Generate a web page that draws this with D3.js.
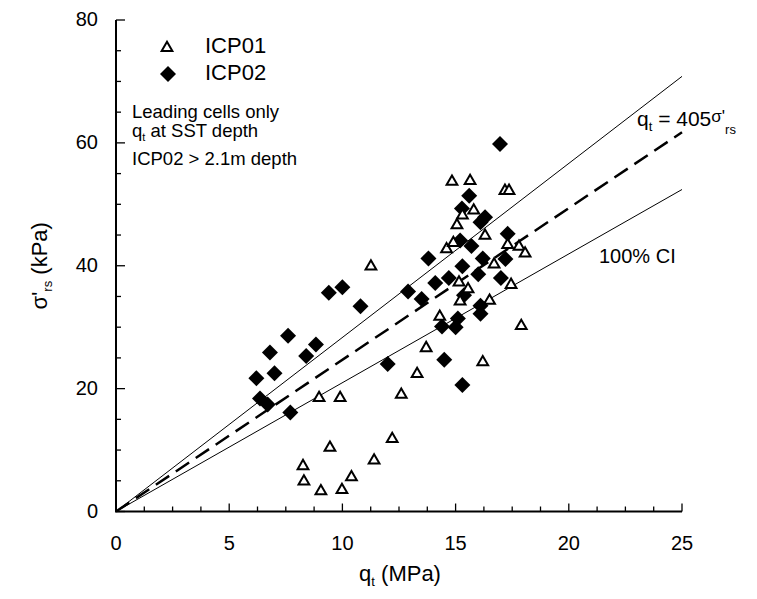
<!DOCTYPE html>
<html lang="en">
<head>
<meta charset="UTF-8">
<title>sigma-rs vs qt</title>
<script src="https://cdn.jsdelivr.net/npm/d3@7.8.5/dist/d3.min.js"></script>
<style>
  body { margin: 0; background: #fff; }
  text { font-family: "Liberation Sans", Arial, sans-serif; fill: #000; }
</style>
</head>
<body>
<div id="chart"></div>
<script>
// ICP01 (open triangles): [qt MPa, sigma'rs kPa]
const icp01 = [
  [8.26, 7.4], [8.3, 4.9], [9.05, 3.3], [9.98, 3.5], [10.4, 5.6], [9.45, 10.4],
  [11.4, 8.3], [12.2, 11.8], [8.97, 18.5], [9.9, 18.5], [12.6, 19.0], [13.3, 22.4],
  [13.7, 26.6], [11.26, 39.9], [14.3, 31.7], [15.2, 34.2], [16.5, 34.3], [15.55, 36.2],
  [15.15, 37.3], [17.45, 36.9], [16.2, 24.3], [17.9, 30.2], [16.7, 40.2], [14.6, 42.7],
  [14.9, 43.7], [16.3, 44.9], [17.3, 43.4], [17.8, 43.1], [18.07, 42.0], [15.06, 46.6],
  [15.3, 48.2], [15.8, 49.0], [14.84, 53.7], [15.64, 53.8], [17.18, 52.2], [17.36, 52.2]
];
// ICP02 (filled diamonds)
const icp02 = [
  [6.2, 21.7], [6.36, 18.4], [6.7, 17.4], [6.8, 25.9], [7.0, 22.5], [7.6, 28.6],
  [7.7, 16.1], [8.4, 25.3], [8.83, 27.2], [9.4, 35.6], [10.0, 36.5], [10.8, 33.4],
  [12.0, 24.0], [12.9, 35.8], [13.5, 34.6], [13.8, 41.2], [14.1, 37.2], [14.4, 30.1],
  [14.5, 24.7], [14.7, 38.0], [15.0, 30.0], [15.1, 31.4], [15.2, 44.1], [15.28, 49.3],
  [15.3, 39.9], [15.3, 20.6], [15.37, 35.2], [15.6, 51.4], [15.7, 43.2], [16.0, 38.6],
  [16.1, 47.1], [16.1, 33.5], [16.1, 32.2], [16.2, 41.2], [16.3, 47.9], [17.0, 38.0],
  [16.96, 59.8], [17.2, 41.1], [17.3, 45.2]
];
// lines through origin: qt = k * sigma'rs  (qt in MPa, sigma in kPa)
const fitK = 405;
const upperK = 353;
const lowerK = 477;
const xTicks = [0, 5, 10, 15, 20, 25];
const yTicks = [0, 20, 40, 60, 80];

const width = 757, height = 599;
const margin = {top: 20, right: 75, bottom: 87.5, left: 116};

const svg = d3.select("#chart").append("svg")
  .attr("width", width)
  .attr("height", height);

const x = d3.scaleLinear().domain([0, 25]).range([margin.left, width - margin.right]);
const y = d3.scaleLinear().domain([0, 80]).range([height - margin.bottom, margin.top]);

// ref lines
function drawLine(k, dash, sw) {
  const pts = [[0, 0], [25, 25 * 1000 / k]];
  svg.append("path")
    .attr("d", d3.line().x(d => x(d[0])).y(d => y(d[1]))(pts))
    .attr("fill", "none")
    .attr("stroke", "#000")
    .attr("stroke-width", sw)
    .attr("stroke-dasharray", dash);
}
drawLine(upperK, null, 1);
drawLine(lowerK, null, 1);
drawLine(fitK, "16,8", 2.5);

// axes, ticks pointing in
const y0 = y(0), x0 = x(0);
const ax = svg.append("g");
ax.append("line").attr("x1", x0 - 1).attr("x2", x(25)).attr("y1", y0).attr("y2", y0)
  .attr("stroke", "#000").attr("stroke-width", 2);
ax.append("line").attr("x1", x0).attr("x2", x0).attr("y1", y0).attr("y2", y(80))
  .attr("stroke", "#000").attr("stroke-width", 2);

d3.range(0, 25.01, 1.25).forEach(v => {
  const major = v % 5 === 0;
  ax.append("line").attr("x1", x(v)).attr("x2", x(v))
    .attr("y1", y0).attr("y2", y0 - (major ? 8 : 5))
    .attr("stroke", "#000").attr("stroke-width", 1.3);
});
d3.range(0, 81, 5).forEach(v => {
  const major = v % 20 === 0;
  ax.append("line").attr("x1", x0).attr("x2", x0 + (major ? 9 : 5))
    .attr("y1", y(v)).attr("y2", y(v))
    .attr("stroke", "#000").attr("stroke-width", 1.3);
});

ax.selectAll(".xl").data(xTicks).join("text")
  .attr("x", d => x(d)).attr("y", y0 + 38)
  .attr("text-anchor", "middle").attr("font-size", 20)
  .text(d => d);
ax.selectAll(".yl").data(yTicks).join("text")
  .attr("x", x0 - 18).attr("y", d => y(d) + 6)
  .attr("text-anchor", "end").attr("font-size", 20)
  .text(d => d);

// axis titles
const xt = svg.append("text").attr("x", 400).attr("y", 581)
  .attr("text-anchor", "middle").attr("font-size", 22);
xt.append("tspan").text("q");
xt.append("tspan").attr("font-size", 13).attr("dy", 5).text("t");
xt.append("tspan").attr("dy", -5).text(" (MPa)");

const yt = svg.append("text")
  .attr("transform", `translate(47, ${y(40)}) rotate(-90)`)
  .attr("text-anchor", "middle").attr("font-size", 22);
yt.append("tspan").text("σ'");
yt.append("tspan").attr("font-size", 13).attr("dy", 5).text("rs");
yt.append("tspan").attr("dy", -5).text(" (kPa)");

// markers
const tri = d3.symbol().type(d3.symbolTriangle).size(50);
const diamondPath = r => `M0,${-r}L${r},0L0,${r}L${-r},0Z`;

svg.append("g").selectAll("path").data(icp02).join("path")
  .attr("d", diamondPath(8))
  .attr("transform", d => `translate(${x(d[0])},${y(d[1])})`)
  .attr("fill", "#000");

svg.append("g").selectAll("path").data(icp01).join("path")
  .attr("d", tri())
  .attr("transform", d => `translate(${x(d[0])},${y(d[1])})`)
  .attr("fill", "#fff").attr("stroke", "#000").attr("stroke-width", 2);

// legend
svg.append("path").attr("d", tri()).attr("transform", "translate(167,48)")
  .attr("fill", "#fff").attr("stroke", "#000").attr("stroke-width", 2);
svg.append("text").attr("x", 205).attr("y", 53).attr("font-size", 22).text("ICP01");
svg.append("path").attr("d", diamondPath(8)).attr("transform", "translate(168,74)")
  .attr("fill", "#000");
svg.append("text").attr("x", 205).attr("y", 80).attr("font-size", 22).text("ICP02");

// notes
svg.append("text").attr("x", 132).attr("y", 118).attr("font-size", 18.5).text("Leading cells only");
const n2 = svg.append("text").attr("x", 132).attr("y", 137).attr("font-size", 18.5);
n2.append("tspan").text("q");
n2.append("tspan").attr("font-size", 11).attr("dy", 4).text("t");
n2.append("tspan").attr("dy", -4).text(" at SST depth");
svg.append("text").attr("x", 132).attr("y", 165).attr("font-size", 18.5).text("ICP02 > 2.1m depth");

const eq = svg.append("text").attr("x", 637).attr("y", 126).attr("font-size", 21);
eq.append("tspan").text("q");
eq.append("tspan").attr("font-size", 13).attr("dy", 5).text("t");
eq.append("tspan").attr("dy", -5).text(" = 405");
eq.append("tspan").attr("font-size", 17).attr("dy", -4).text("σ'");
eq.append("tspan").attr("font-size", 13).attr("dy", 12).text("rs");

svg.append("text").attr("x", 599).attr("y", 263).attr("font-size", 20).text("100% CI");
</script>
</body>
</html>
